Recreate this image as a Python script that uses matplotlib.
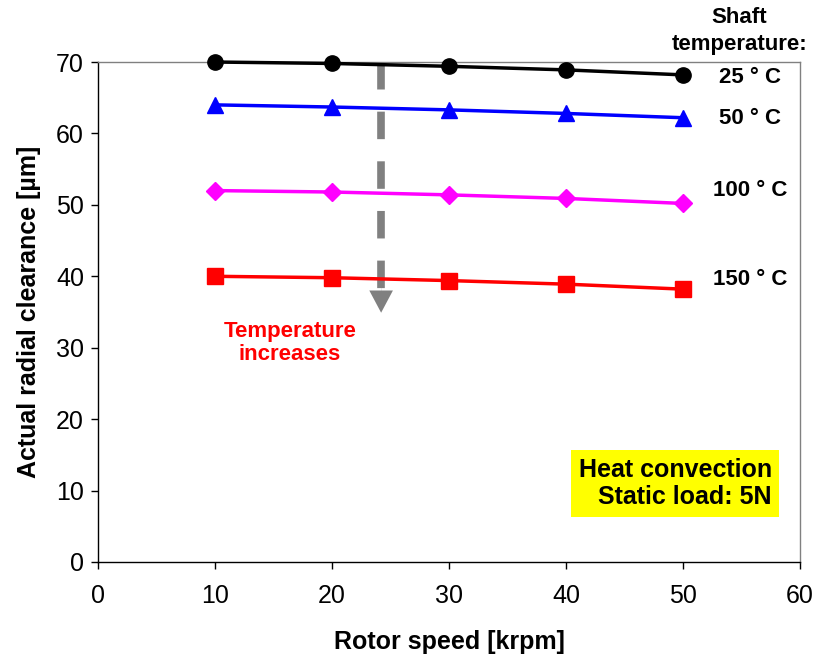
import matplotlib
matplotlib.use("Agg")
import matplotlib.pyplot as plt

plt.rcParams['font.family'] = ['Liberation Sans', 'DejaVu Sans']

speed = [10, 20, 30, 40, 50]
t25 = [70.0, 69.8, 69.4, 68.9, 68.2]
t50 = [64.0, 63.7, 63.3, 62.8, 62.2]
t100 = [52.0, 51.8, 51.4, 50.9, 50.2]
t150 = [40.0, 39.8, 39.4, 38.9, 38.2]
series_labels = ["25 ° C", "50 ° C", "100 ° C", "150 ° C"]
label_y = [67.8, 62.1, 52.0, 39.5]

fig = plt.figure(figsize=(8.15, 6.57), dpi=100)
ax = fig.add_axes([0.1202, 0.1446, 0.8614, 0.761])

styles = [
    (t25, 'black', 'o', 11),
    (t50, '#0000FF', '^', 12),
    (t100, '#FF00FF', 'D', 9),
    (t150, '#FF0000', 's', 11),
]
for vals, c, m, ms in styles:
    ax.plot(speed, vals, color=c, marker=m, markersize=ms, linewidth=2.5, clip_on=False, zorder=3)

ax.set_xlim(0, 60)
ax.set_ylim(0, 70)
ax.set_xticks(range(0, 61, 10))
ax.set_yticks(range(0, 71, 10))
ax.tick_params(labelsize=18, direction='out', length=5, width=1)
ax.tick_params(axis='x', pad=11)
ax.tick_params(axis='y', pad=5)
for s in ['top', 'right']:
    ax.spines[s].set_color('#808080')
    ax.spines[s].set_linewidth(1)
for s in ['left', 'bottom']:
    ax.spines[s].set_color('black')
    ax.spines[s].set_linewidth(1)

ax.set_xlabel("Rotor speed [krpm]", fontsize=18, fontweight='bold', labelpad=16)
ax.set_ylabel("Actual radial clearance [µm]", fontsize=18, fontweight='bold', labelpad=11)

# dashed arrow
ax.plot([24.2, 24.2], [70.0, 38.2], color='#808080', linewidth=5.5, linestyle=(0, (3.6, 2.9)), zorder=2)
ax.annotate("", xy=(24.2, 34.9), xytext=(24.2, 38.6),
            arrowprops=dict(width=0.1, headwidth=17, headlength=16, color='#808080', lw=0,
                            shrink=0), zorder=2)

ax.text(16.4, 30.7, "Temperature\nincreases", color='#FF0000', fontsize=16, fontweight='bold',
        ha='center', va='center', linespacing=1.15)

for lab, yv in zip(series_labels, label_y):
    ax.text(55.7, yv, lab, fontsize=16, fontweight='bold', ha='center', va='center', clip_on=False)
ax.text(54.8, 76.3, "Shaft", fontsize=16, fontweight='bold', ha='center', va='center', clip_on=False)
ax.text(54.8, 72.4, "temperature:", fontsize=16, fontweight='bold', ha='center', va='center', clip_on=False)

ax.text(57.6, 11.0, "Heat convection\nStatic load: 5N", fontsize=18, fontweight='bold', ha='right', va='center',
        linespacing=1.2, bbox=dict(facecolor='#FFFF00', edgecolor='none', boxstyle='square,pad=0.3'))

fig.savefig("out.png", dpi=100)
